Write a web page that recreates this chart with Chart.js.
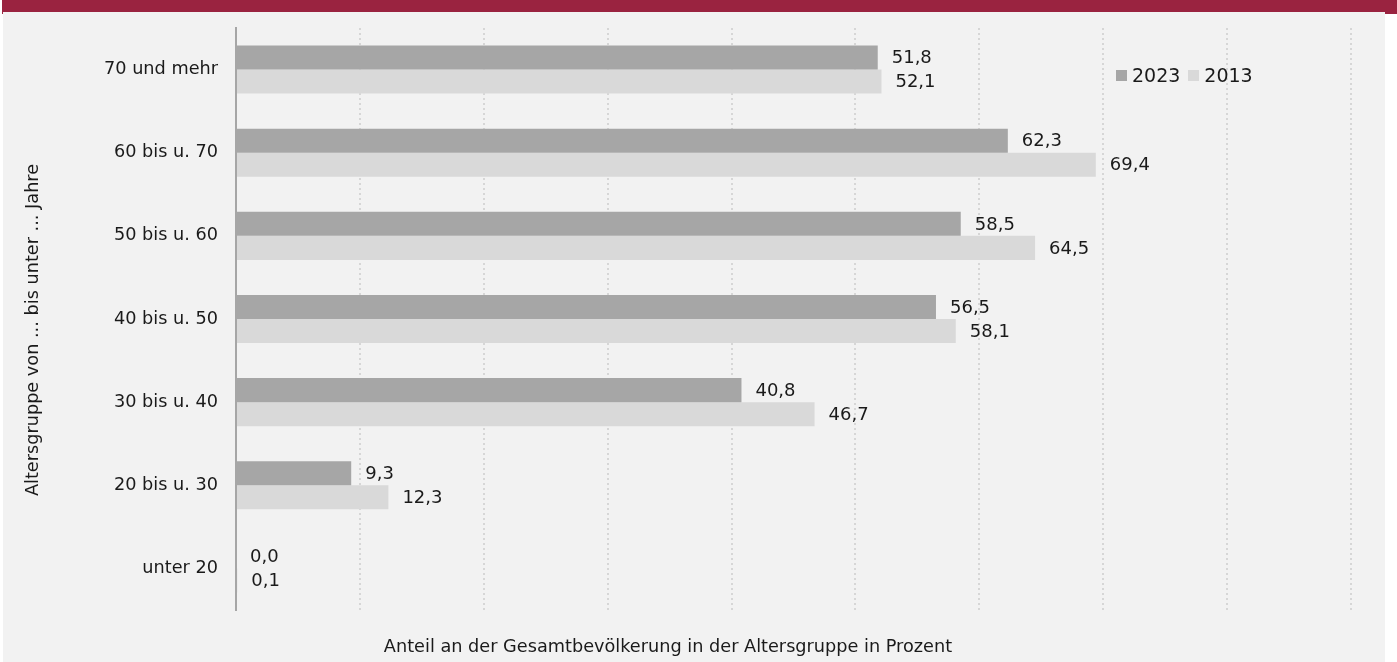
<!DOCTYPE html>
<html>
<head>
<meta charset="utf-8">
<script src="https://cdn.jsdelivr.net/npm/chart.js@4.4.0/dist/chart.umd.min.js"></script>
<style>
  html, body { margin: 0; padding: 0; background: #ffffff; width: 1397px; height: 662px; overflow: hidden; }
  #band { position: absolute; left: 2px; top: 0; width: 1395px; height: 14px; background: #9a2340; }
  #panel { position: absolute; left: 3px; top: 12px; width: 1382px; height: 650px; background: #f2f2f2; }
  #chart { position: absolute; left: 0; top: 0; }
  #legend { position: absolute; left: 1113px; top: 52px; display: flex; align-items: center;
            font-family: "DejaVu Sans", sans-serif; font-size: 19px; color: #1a1a1a; }
  #legend .sw { width: 11px; height: 11px; display: inline-block; margin-right: 5px; }
  #legend .item { display: flex; align-items: center; margin-right: 8px; }
</style>
</head>
<body>
<div id="band"></div>
<div id="panel">
  <canvas id="chart" width="1382" height="650"></canvas>
  <div id="legend"></div>
</div>
<script>
const categories = ["70 und mehr", "60 bis u. 70", "50 bis u. 60", "40 bis u. 50", "30 bis u. 40", "20 bis u. 30", "unter 20"];
const values2023 = [51.8, 62.3, 58.5, 56.5, 40.8, 9.3, 0.0];
const values2013 = [52.1, 69.4, 64.5, 58.1, 46.7, 12.3, 0.1];
const seriesNames = ["2023", "2013"];
const seriesColors = ["#a6a6a6", "#d9d9d9"];
const xTicks = [0, 10, 20, 30, 40, 50, 60, 70, 80, 90];
const xTitle = "Anteil an der Gesamtbevölkerung in der Altersgruppe in Prozent";
const yTitle = "Altersgruppe von ... bis unter ... Jahre";

const FONT = '"DejaVu Sans", sans-serif';
const TXT = '#1a1a1a';

const fmt = v => v.toFixed(1).replace('.', ',');

const valueLabels = {
  id: 'valueLabels',
  afterDatasetsDraw(chart) {
    const ctx = chart.ctx;
    ctx.save();
    ctx.font = '18px ' + FONT;
    ctx.fillStyle = TXT;
    ctx.textAlign = 'left';
    ctx.textBaseline = 'middle';
    chart.data.datasets.forEach((ds, di) => {
      chart.getDatasetMeta(di).data.forEach((bar, i) => {
        ctx.fillText(fmt(ds.data[i]), bar.x + 14, bar.y + 1);
      });
    });
    ctx.restore();
  }
};

const titlesPlugin = {
  id: 'titlesPlugin',
  afterDraw(chart) {
    const ctx = chart.ctx;
    ctx.save();
    ctx.font = '17.7px ' + FONT;
    ctx.fillStyle = TXT;
    ctx.textAlign = 'center';
    ctx.textBaseline = 'middle';
    ctx.fillText(xTitle, 665, chart.chartArea.bottom + 37);
    ctx.translate(30, 318);
    ctx.rotate(-Math.PI / 2);
    ctx.fillText(yTitle, 0, 0);
    ctx.restore();
  }
};

const chart = new Chart(document.getElementById('chart'), {
  type: 'bar',
  data: {
    labels: categories,
    datasets: [
      { label: seriesNames[0], data: values2023, backgroundColor: seriesColors[0] },
      { label: seriesNames[1], data: values2013, backgroundColor: seriesColors[1] }
    ]
  },
  options: {
    indexAxis: 'y',
    responsive: false,
    animation: false,
    devicePixelRatio: 1,
    layout: { padding: { top: 16, right: 34, left: 0, bottom: 0 } },
    datasets: { bar: { categoryPercentage: 0.578, barPercentage: 1.0 } },
    plugins: { legend: { display: false }, tooltip: { enabled: false } },
    scales: {
      x: {
        min: xTicks[0], max: xTicks[xTicks.length - 1],
        afterBuildTicks: s => { s.ticks = xTicks.map(v => ({ value: v })); },
        afterFit: s => { s.height = 52; s.paddingLeft = 0; s.paddingRight = 0; },
        ticks: { display: false },
        border: { display: false, dash: [2, 3] },
        grid: {
          drawTicks: false,
          color: ctx => ctx.tick && ctx.tick.value === 0 ? 'rgba(0,0,0,0)' : '#d6d6d6',
          lineWidth: 2
        }
      },
      y: {
        afterFit: s => { s.width = 233; s.paddingTop = 0; s.paddingBottom = 0; },
        grid: { display: false, drawTicks: false },
        border: { display: true, color: '#a6a6a6', width: 2 },
        ticks: { color: TXT, font: { family: FONT, size: 17.7 }, padding: 18 }
      }
    }
  },
  plugins: [valueLabels, titlesPlugin]
});

const legend = document.getElementById('legend');
seriesNames.forEach((n, i) => {
  const it = document.createElement('span');
  it.className = 'item';
  const sw = document.createElement('span');
  sw.className = 'sw';
  sw.style.background = seriesColors[i];
  it.appendChild(sw);
  it.appendChild(document.createTextNode(n));
  legend.appendChild(it);
});
</script>
</body>
</html>
